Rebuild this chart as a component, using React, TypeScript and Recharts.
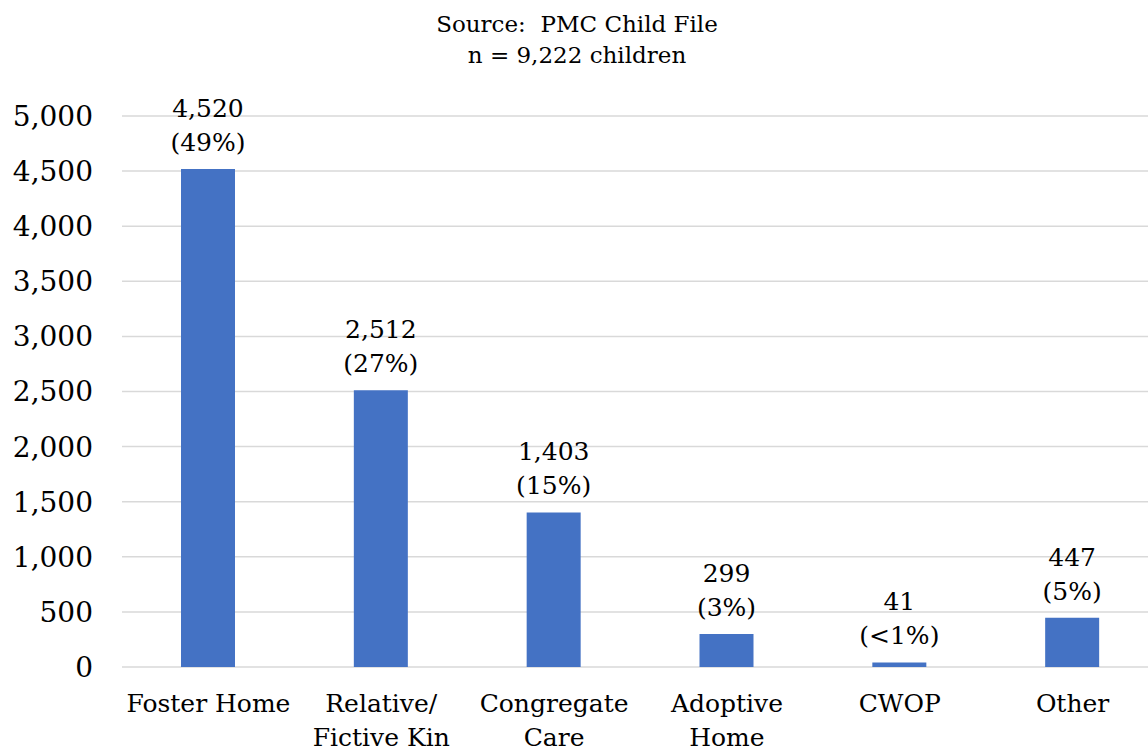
import { Bar, BarChart, CartesianGrid, LabelList, XAxis, YAxis } from "recharts";

const categories = ["Foster Home", "Relative/\nFictive Kin", "Congregate\nCare", "Adoptive\nHome", "CWOP", "Other"];
const counts = [4520, 2512, 1403, 299, 41, 447];
const percents = ["49%", "27%", "15%", "3%", "<1%", "5%"];
const yTicks = [0, 500, 1000, 1500, 2000, 2500, 3000, 3500, 4000, 4500, 5000];

const FONT = "'DejaVu Serif', Georgia, serif";

const data = categories.map((name, i) => ({ name, count: counts[i], pct: percents[i] }));

function CategoryTick(props: any) {
  const { x, y, payload } = props;
  const lines = String(payload.value).split("\n");
  return (
    <text x={x} y={y} textAnchor="middle" fontFamily={FONT} fontSize={25} fill="#000">
      {lines.map((line, i) => (
        <tspan key={i} x={x} dy={i === 0 ? 37 : 34}>
          {line}
        </tspan>
      ))}
    </text>
  );
}

function BarLabel(props: any) {
  const { x, y, width, index } = props;
  const cx = x + width / 2;
  return (
    <text x={cx} y={y} textAnchor="middle" fontFamily={FONT} fontSize={25} fill="#000">
      <tspan x={cx} dy={-52}>
        {counts[index].toLocaleString("en-US")}
      </tspan>
      <tspan x={cx} dy={34}>
        ({percents[index]})
      </tspan>
    </text>
  );
}

export default function App() {
  return (
    <div
      style={{
        position: "absolute",
        left: 0,
        top: 0,
        width: 1148,
        height: 746,
        overflow: "hidden",
        background: "#fff",
      }}
    >
      <div
        style={{
          position: "absolute",
          left: 0,
          top: 9,
          width: 1154,
          textAlign: "center",
          fontFamily: FONT,
          fontSize: 23,
          lineHeight: "31px",
          whiteSpace: "pre",
          color: "#000",
        }}
      >
        {"Source:  PMC Child File\nn = 9,222 children"}
      </div>
      <BarChart
        width={1159}
        height={746}
        data={data}
        margin={{ top: 116, right: 0, left: 0, bottom: 0 }}
      >
        <CartesianGrid vertical={false} stroke="#d9d9d9" strokeWidth={1.5} />
        <XAxis
          dataKey="name"
          axisLine={false}
          tickLine={false}
          height={79}
          interval={0}
          tick={<CategoryTick />}
        />
        <YAxis
          domain={[0, 5000]}
          ticks={yTicks}
          width={122}
          axisLine={false}
          tickLine={false}
          interval={0}
          tickFormatter={(v: number) => v.toLocaleString("en-US")}
          tick={{ fontFamily: FONT, fontSize: 28, fill: "#000", dx: -21 }}
        />
        <Bar dataKey="count" fill="#4472c4" barSize={54} isAnimationActive={false}>
          <LabelList dataKey="count" content={<BarLabel />} />
        </Bar>
      </BarChart>
    </div>
  );
}
